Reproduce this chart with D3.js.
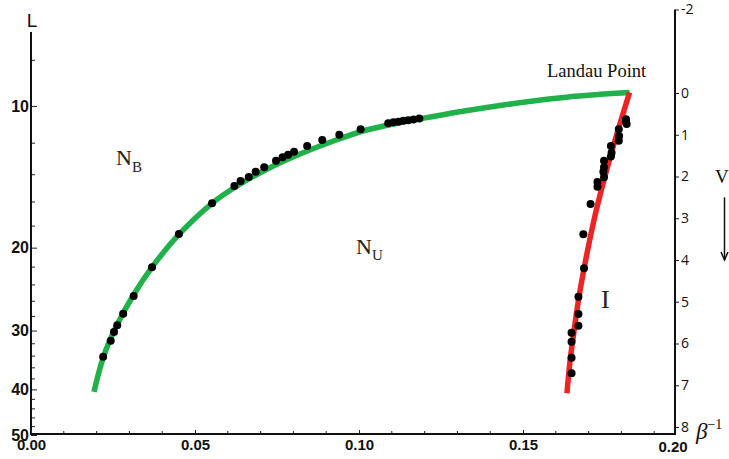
<!DOCTYPE html>
<html>
<head>
<meta charset="utf-8">
<script src="https://cdn.jsdelivr.net/npm/d3@7"></script>
<style>
  html, body { margin: 0; padding: 0; background: #fff; }
  svg { display: block; }
</style>
</head>
<body>
<svg id="chart" width="729" height="459"></svg>
<script>
// ---------- data (β^-1 , L) ----------
const greenCurveBeta = [0.0192,0.0221,0.0262,0.0311,0.0369,0.0451,0.0552,0.0617,0.0719,0.0820,0.0922,0.1023,0.1125,0.1226,0.1326,0.1430,0.1531,0.1631,0.1735,0.1825];
const greenCurveL    = [40.5,34.1,29.2,25.3,22.0,18.75,16.1,14.96,13.63,12.65,11.87,11.25,10.85,10.53,10.24,9.98,9.76,9.58,9.45,9.36];

const redCurveBeta = [0.1825,0.1797,0.1770,0.1745,0.1722,0.1702,0.1684,0.1668,0.1655,0.1643,0.1634];
const redCurveL    = [9.36,10.83,12.54,14.52,16.82,19.48,22.56,26.13,30.26,35.04,40.78];

const greenDotsBeta = [0.0220,0.0243,0.0253,0.0263,0.0281,0.0313,0.0369,0.0451,0.0552,0.0620,0.0639,0.0664,0.0685,0.0711,0.0747,0.0767,0.0784,0.0802,0.0842,0.0888,0.0940,0.1005,0.1089,0.1105,0.1120,0.1135,0.1150,0.1166,0.1184];
const greenDotsL    = [34.09,31.52,30.21,29.24,27.62,25.33,22.01,18.71,16.10,14.79,14.43,14.15,13.79,13.50,13.07,12.85,12.69,12.51,12.16,11.81,11.51,11.21,10.88,10.83,10.80,10.75,10.73,10.69,10.64];

const redDotsBeta = [0.1814,0.1814,0.1816,0.1792,0.1793,0.1792,0.1768,0.1770,0.1768,0.1747,0.1747,0.1745,0.1747,0.1727,0.1727,0.1706,0.1684,0.1686,0.1669,0.1669,0.1669,0.1648,0.1648,0.1648,0.1648];
const redDotsL    = [10.67,10.80,10.92,11.21,11.58,11.85,12.16,12.57,12.81,13.07,13.50,13.79,14.17,14.50,14.84,16.15,18.73,22.12,25.42,27.67,29.30,30.32,31.68,34.26,36.98];

// ---------- tick labels ----------
const xMajorTicks = [0, 0.05, 0.10, 0.15];
const xMinorTicks = [0.01,0.02,0.03,0.04,0.06,0.07,0.08,0.09,0.11,0.12,0.13,0.14,0.16,0.17,0.18,0.19];
const xEndLabel = "0.20";
const lMajorTicks = [10, 20, 30, 40, 50];
const lMinorTicks = [8,12,14,16,18,22,24,26,28,32,34,36,38,42,44,46,48];
const vTicks = [-2, 0, 1, 2, 3, 4, 5, 6, 7, 8];

// ---------- layout ----------
const svg = d3.select("#chart");
const X0 = 31, XR = 675, YB = 434;

const x  = d3.scaleLinear().domain([0, 0.2]).range([31, 687]);
const yL = d3.scaleLog().domain([7, 50]).range([33, 435]);
const yV = d3.scaleLinear().domain([-2, 8]).range([9.5, 427]);

svg.append("rect").attr("width", 729).attr("height", 459).attr("fill", "#fff");

// ---------- curves ----------
const line = d3.line().x(d => x(d[0])).y(d => yL(d[1])).curve(d3.curveCatmullRom.alpha(0.5));

svg.append("path")
  .datum(greenCurveBeta.map((b, i) => [b, greenCurveL[i]]))
  .attr("d", line).attr("fill", "none")
  .attr("stroke", "#20b14b").attr("stroke-width", 5.5);

svg.append("path")
  .datum(redCurveBeta.map((b, i) => [b, redCurveL[i]]))
  .attr("d", line).attr("fill", "none")
  .attr("stroke", "#ee2424").attr("stroke-width", 5.5);

// ---------- dots ----------
svg.append("g").selectAll("circle")
  .data(greenDotsBeta.map((b, i) => [b, greenDotsL[i]]).concat(redDotsBeta.map((b, i) => [b, redDotsL[i]])))
  .join("circle")
  .attr("cx", d => x(d[0])).attr("cy", d => yL(d[1])).attr("r", 4)
  .attr("fill", "#000");

// ---------- left axis (L) ----------
const gL = svg.append("g").attr("transform", `translate(${X0},0)`);
gL.call(d3.axisLeft(yL).tickValues(lMajorTicks).tickFormat(d3.format("d"))
  .tickSizeInner(-6).tickSizeOuter(0).tickPadding(2));
gL.select(".domain").remove();
gL.selectAll(".tick line").attr("stroke", "#222").attr("stroke-width", 1);
gL.selectAll(".tick text").attr("font-family", "Liberation Sans, Arial, sans-serif")
  .attr("font-weight", "bold").attr("font-size", 16).attr("fill", "#111");
gL.append("g").selectAll("line").data(lMinorTicks).join("line")
  .attr("x1", 0).attr("x2", 4).attr("y1", d => yL(d)).attr("y2", d => yL(d))
  .attr("stroke", "#222").attr("stroke-width", 1);
gL.append("line").attr("x1", 0).attr("x2", 0).attr("y1", 32).attr("y2", YB + 1)
  .attr("stroke", "#111").attr("stroke-width", 2);
svg.append("text").attr("x", 32).attr("y", 27).attr("text-anchor", "middle")
  .attr("font-family", "Liberation Sans, Arial, sans-serif").attr("font-size", 19)
  .attr("fill", "#111").text("L");

// ---------- bottom axis (β^-1) ----------
const gX = svg.append("g").attr("transform", `translate(0,${YB})`);
gX.call(d3.axisBottom(x).tickValues(xMajorTicks).tickFormat(d3.format(".2f"))
  .tickSizeInner(-4).tickSizeOuter(0).tickPadding(5));
gX.select(".domain").remove();
gX.selectAll(".tick line").attr("stroke", "#222");
gX.selectAll(".tick text").attr("font-family", "Liberation Sans, Arial, sans-serif")
  .attr("font-weight", "bold").attr("font-size", 15).attr("fill", "#111");
gX.append("g").selectAll("line").data(xMinorTicks).join("line")
  .attr("x1", d => x(d)).attr("x2", d => x(d)).attr("y1", 0).attr("y2", -3)
  .attr("stroke", "#222");
gX.append("line").attr("x1", X0).attr("x2", XR).attr("y1", 0).attr("y2", 0)
  .attr("stroke", "#111").attr("stroke-width", 2);
gX.append("text").attr("x", XR - 2).attr("y", 18).attr("text-anchor", "middle")
  .attr("font-family", "Liberation Sans, Arial, sans-serif").attr("font-weight", "bold")
  .attr("font-size", 15).attr("fill", "#111").text(xEndLabel);

const bl = svg.append("text").attr("x", 696).attr("y", 439)
  .attr("font-family", "Liberation Serif, Times New Roman, serif").attr("fill", "#111");
bl.append("tspan").attr("font-style", "italic").attr("font-size", 23).text("β");
bl.append("tspan").attr("font-size", 14).attr("dy", -10).text("−1");

// ---------- right axis (V) ----------
const gV = svg.append("g").attr("transform", `translate(${XR},0)`);
gV.call(d3.axisRight(yV).tickValues(vTicks).tickFormat(d => String(d))
  .tickSizeInner(4).tickSizeOuter(0).tickPadding(2));
gV.select(".domain").remove();
gV.selectAll(".tick line").attr("stroke", "#222");
gV.selectAll(".tick text").attr("font-family", "Open Sans, Noto Sans, sans-serif")
  .attr("font-size", 14).attr("fill", "#111");
gV.append("line").attr("x1", 0).attr("x2", 0).attr("y1", 9.5).attr("y2", YB + 1)
  .attr("stroke", "#111").attr("stroke-width", 2);

svg.append("text").attr("x", 715).attr("y", 183)
  .attr("font-family", "Liberation Serif, Times New Roman, serif").attr("font-size", 19)
  .attr("fill", "#111").text("V");
svg.append("line").attr("x1", 724.5).attr("x2", 724.5).attr("y1", yV(2.5)).attr("y2", yV(4))
  .attr("stroke", "#111").attr("stroke-width", 1.5);
svg.append("path").attr("d", `M721,${yV(4) - 8}L724.5,${yV(4)}L728,${yV(4) - 8}`)
  .attr("fill", "none").attr("stroke", "#111").attr("stroke-width", 1.5);

// ---------- region labels ----------
const serif = "Liberation Serif, Times New Roman, serif";
svg.append("text").attr("x", 547).attr("y", 77).attr("font-family", serif)
  .attr("font-size", 18.5).attr("fill", "#111").text("Landau Point");

const nb = svg.append("text").attr("x", 116).attr("y", 165).attr("font-family", serif)
  .attr("font-size", 22).attr("fill", "#222");
nb.append("tspan").text("N");
nb.append("tspan").attr("font-size", 15).attr("dy", 7).text("B");

const nu = svg.append("text").attr("x", 356).attr("y", 254).attr("font-family", serif)
  .attr("font-size", 22).attr("fill", "#222");
nu.append("tspan").text("N");
nu.append("tspan").attr("font-size", 15).attr("dy", 6).text("U");

svg.append("text").attr("x", 601).attr("y", 308).attr("font-family", serif)
  .attr("font-size", 26).attr("fill", "#222").text("I");
</script>
</body>
</html>
